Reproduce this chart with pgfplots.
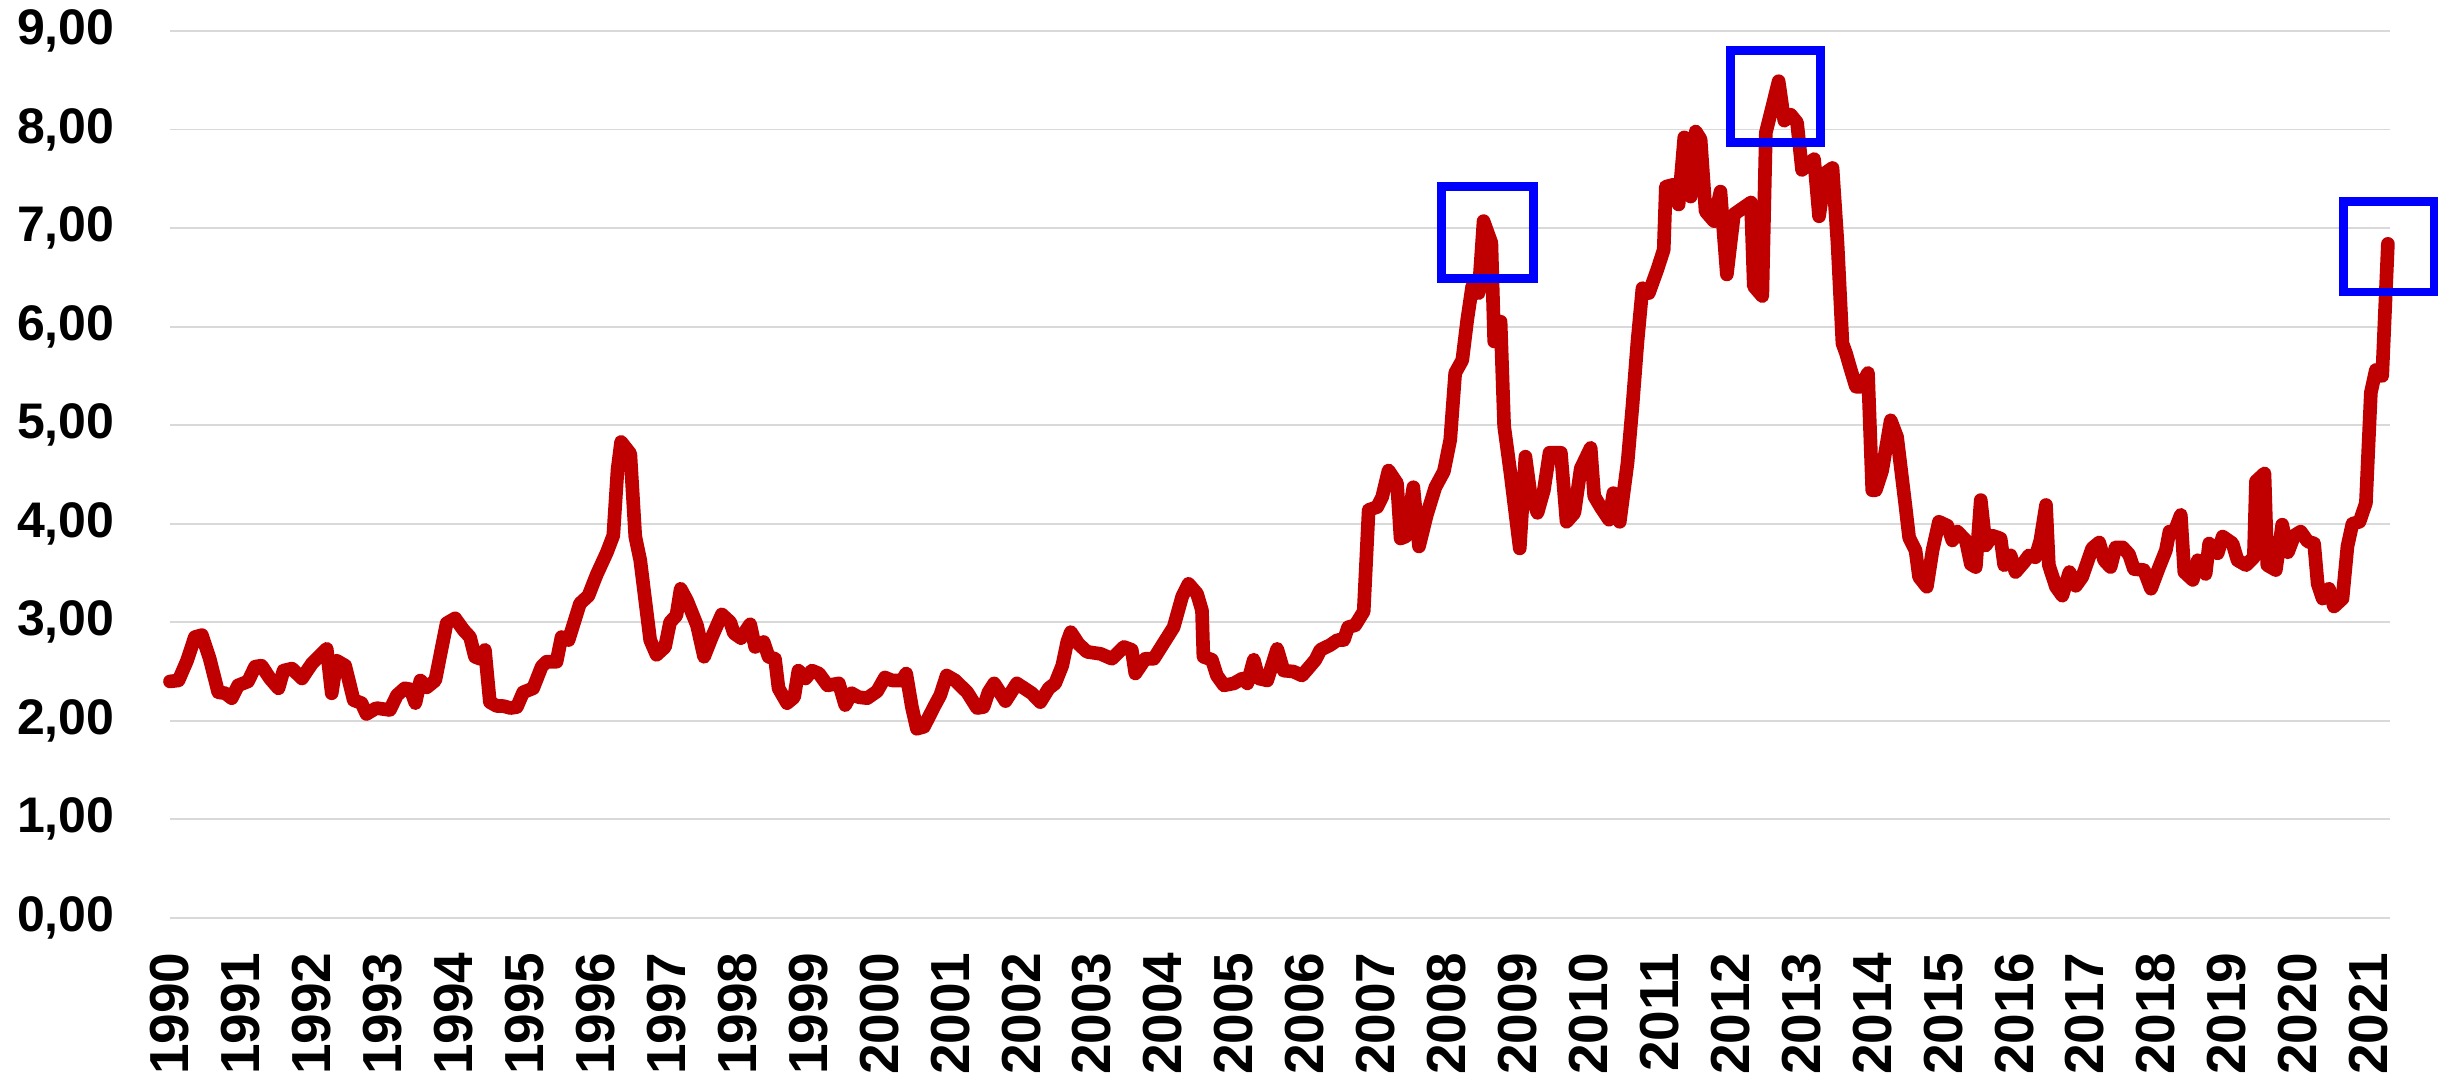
\documentclass[border=0pt]{standalone}
\usepackage{pgfplots}
\pgfplotsset{compat=1.18}
\usepackage{fontspec}
\setmainfont{Liberation Sans}
\definecolor{linered}{HTML}{C00000}
\definecolor{gridgray}{HTML}{D9D9D9}
\definecolor{boxblue}{HTML}{0000FF}
\begin{document}
\begin{tikzpicture}
\begin{axis}[
  name=ax,
  scale only axis,
  width=666pt, height=266.1pt,
  xmin=1990, xmax=2021.30,
  ymin=0, ymax=9,
  clip=false,
  axis line style={draw=none},
  tick style={draw=none},
  ymajorgrids,
  grid style={color=gridgray, line width=0.55pt},
  ytick={0,1,...,9},
  xtick={1990,1991,...,2021},
  xticklabels={1990,1991,1992,1993,1994,1995,1996,1997,1998,1999,2000,2001,2002,2003,2004,2005,2006,2007,2008,2009,2010,2011,2012,2013,2014,2015,2016,2017,2018,2019,2020,2021},
  yticklabel style={font=\bfseries\fontsize{15}{18}\selectfont, text=black, inner sep=0pt},
  xticklabel style={font=\bfseries\fontsize{16.5}{19}\selectfont, text=black, rotate=90, anchor=east, inner sep=0pt, xshift=1.2pt},
  xticklabel shift=11.4pt,
  yticklabel shift=16.5pt,
  /pgf/number format/assume math mode=true,
  yticklabel style={/pgf/number format/.cd, fixed, fixed zerofill, precision=2, use comma},
]
\addplot[color=linered, line width=4.1pt, line join=round, line cap=round] table {
1990.00 2.40
1990.12 2.41
1990.24 2.61
1990.35 2.85
1990.45 2.87
1990.56 2.63
1990.68 2.29
1990.78 2.28
1990.87 2.23
1990.96 2.36
1991.10 2.40
1991.20 2.55
1991.29 2.56
1991.41 2.43
1991.53 2.33
1991.60 2.51
1991.72 2.53
1991.86 2.43
1992.00 2.58
1992.21 2.73
1992.28 2.28
1992.35 2.61
1992.47 2.56
1992.59 2.21
1992.70 2.18
1992.77 2.07
1992.91 2.13
1993.10 2.11
1993.20 2.26
1993.31 2.33
1993.39 2.32
1993.46 2.18
1993.53 2.41
1993.62 2.34
1993.74 2.41
1993.90 2.99
1994.02 3.04
1994.14 2.92
1994.23 2.85
1994.30 2.65
1994.37 2.63
1994.44 2.72
1994.51 2.19
1994.61 2.15
1994.70 2.15
1994.80 2.13
1994.89 2.14
1994.98 2.29
1995.12 2.33
1995.24 2.55
1995.31 2.60
1995.45 2.60
1995.52 2.85
1995.62 2.82
1995.78 3.19
1995.90 3.27
1995.97 3.40
1996.02 3.49
1996.16 3.71
1996.25 3.88
1996.31 4.55
1996.36 4.83
1996.49 4.71
1996.56 3.87
1996.63 3.63
1996.77 2.82
1996.86 2.67
1996.98 2.75
1997.05 3.00
1997.14 3.07
1997.20 3.34
1997.29 3.22
1997.43 2.97
1997.53 2.65
1997.64 2.85
1997.78 3.08
1997.90 3.00
1997.95 2.89
1998.05 2.84
1998.18 2.98
1998.25 2.75
1998.37 2.80
1998.44 2.65
1998.53 2.63
1998.58 2.33
1998.70 2.18
1998.80 2.24
1998.86 2.51
1998.96 2.43
1999.05 2.51
1999.15 2.48
1999.27 2.36
1999.43 2.38
1999.52 2.16
1999.61 2.28
1999.71 2.24
1999.83 2.23
1999.97 2.30
2000.08 2.44
2000.18 2.41
2000.32 2.41
2000.38 2.48
2000.46 2.14
2000.53 1.92
2000.63 1.94
2000.77 2.14
2000.86 2.26
2000.95 2.46
2001.07 2.41
2001.24 2.29
2001.38 2.13
2001.47 2.14
2001.54 2.29
2001.62 2.38
2001.78 2.20
2001.94 2.38
2002.15 2.28
2002.27 2.19
2002.39 2.33
2002.48 2.38
2002.58 2.56
2002.65 2.80
2002.70 2.90
2002.81 2.78
2002.93 2.70
2003.12 2.68
2003.28 2.63
2003.45 2.75
2003.56 2.72
2003.61 2.48
2003.75 2.63
2003.87 2.63
2004.15 2.95
2004.27 3.26
2004.36 3.39
2004.48 3.29
2004.55 3.12
2004.57 2.65
2004.69 2.62
2004.76 2.46
2004.86 2.36
2005.00 2.38
2005.12 2.43
2005.19 2.38
2005.28 2.62
2005.35 2.43
2005.47 2.41
2005.61 2.73
2005.70 2.51
2005.84 2.50
2005.96 2.46
2006.08 2.56
2006.15 2.62
2006.22 2.72
2006.36 2.77
2006.46 2.82
2006.55 2.82
2006.61 2.95
2006.71 2.97
2006.83 3.11
2006.90 4.14
2007.02 4.17
2007.09 4.27
2007.18 4.54
2007.30 4.41
2007.35 3.85
2007.42 3.87
2007.53 4.37
2007.61 3.77
2007.72 4.09
2007.84 4.37
2007.96 4.53
2008.05 4.85
2008.12 5.53
2008.22 5.66
2008.29 6.07
2008.36 6.41
2008.45 6.34
2008.52 7.07
2008.63 6.85
2008.67 5.85
2008.76 6.05
2008.81 4.99
2008.90 4.51
2009.03 3.75
2009.11 4.68
2009.18 4.31
2009.28 4.11
2009.37 4.34
2009.45 4.72
2009.61 4.72
2009.69 4.02
2009.80 4.11
2009.89 4.56
2010.03 4.77
2010.08 4.28
2010.17 4.17
2010.29 4.04
2010.35 4.31
2010.44 4.02
2010.55 4.62
2010.62 5.20
2010.69 5.85
2010.76 6.39
2010.85 6.34
2010.97 6.58
2011.06 6.78
2011.09 7.42
2011.20 7.44
2011.27 7.24
2011.35 7.92
2011.44 7.32
2011.51 7.98
2011.58 7.90
2011.65 7.17
2011.77 7.07
2011.86 7.37
2011.95 6.53
2012.05 7.14
2012.17 7.20
2012.29 7.26
2012.33 6.41
2012.45 6.31
2012.50 7.97
2012.57 8.17
2012.68 8.49
2012.76 8.09
2012.85 8.15
2012.94 8.07
2013.01 7.59
2013.18 7.70
2013.25 7.12
2013.34 7.56
2013.44 7.61
2013.51 6.85
2013.58 5.83
2013.63 5.73
2013.69 5.58
2013.77 5.39
2013.84 5.39
2013.94 5.53
2014.00 4.34
2014.05 4.34
2014.14 4.54
2014.26 5.05
2014.35 4.88
2014.47 4.17
2014.52 3.86
2014.61 3.73
2014.66 3.46
2014.77 3.36
2014.85 3.73
2014.94 4.02
2015.06 3.98
2015.13 3.83
2015.20 3.92
2015.32 3.83
2015.39 3.59
2015.46 3.56
2015.53 4.24
2015.60 3.78
2015.69 3.88
2015.81 3.85
2015.86 3.58
2015.95 3.68
2016.02 3.51
2016.14 3.61
2016.21 3.68
2016.30 3.66
2016.37 3.83
2016.45 4.19
2016.49 3.58
2016.59 3.36
2016.68 3.27
2016.78 3.51
2016.87 3.37
2016.96 3.46
2017.10 3.75
2017.20 3.81
2017.27 3.63
2017.36 3.56
2017.43 3.76
2017.53 3.76
2017.62 3.69
2017.69 3.54
2017.83 3.53
2017.93 3.34
2018.04 3.55
2018.14 3.73
2018.19 3.92
2018.26 3.92
2018.35 4.09
2018.40 3.51
2018.52 3.43
2018.59 3.63
2018.70 3.49
2018.75 3.80
2018.87 3.70
2018.94 3.87
2019.08 3.80
2019.15 3.63
2019.27 3.58
2019.38 3.66
2019.41 4.43
2019.53 4.51
2019.57 3.58
2019.69 3.53
2019.78 3.99
2019.86 3.71
2019.95 3.88
2020.04 3.92
2020.14 3.82
2020.23 3.80
2020.28 3.39
2020.35 3.24
2020.44 3.34
2020.51 3.16
2020.63 3.24
2020.70 3.77
2020.77 4.00
2020.87 4.02
2020.96 4.21
2021.03 5.33
2021.10 5.56
2021.19 5.50
2021.27 6.84
};
\draw[boxblue, line width=2.6pt] (axis cs:2007.93,6.49) rectangle (axis cs:2009.22,7.42);
\draw[boxblue, line width=2.6pt] (axis cs:2012.00,7.87) rectangle (axis cs:2013.27,8.80);
\draw[boxblue, line width=2.6pt] (axis cs:2020.64,6.35) rectangle (axis cs:2021.92,7.27);
\end{axis}
\pgfresetboundingbox
\path[use as bounding box] ([xshift=-51pt,yshift=-47.4pt]ax.south west) rectangle ([xshift=18.9pt,yshift=9.3pt]ax.north east);
\end{tikzpicture}
\end{document}
